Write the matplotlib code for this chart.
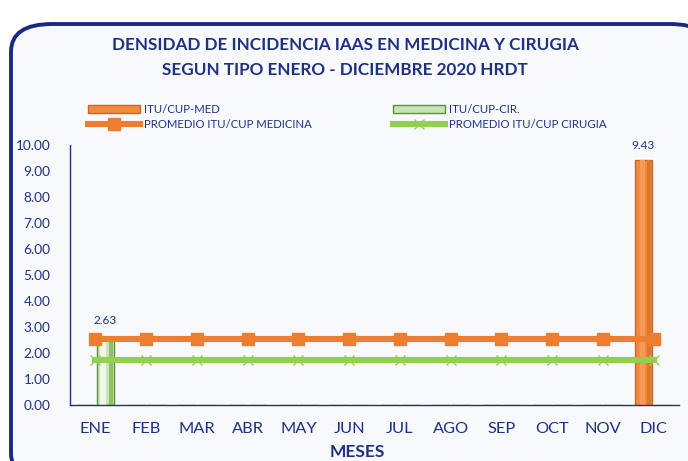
import matplotlib.pyplot as plt
from matplotlib.patches import FancyBboxPatch
import numpy as np

# datos
meses = ["ENE", "FEB", "MAR", "ABR", "MAY", "JUN", "JUL", "AGO", "SEP", "OCT", "NOV", "DIC"]
itu_med = [0, 0, 0, 0, 0, 0, 0, 0, 0, 0, 0, 9.43]
itu_cir = [2.63, 0, 0, 0, 0, 0, 0, 0, 0, 0, 0, 0]
prom_med = [2.53] * 12
prom_cir = [1.73] * 12

navy = "#1f3180"
naranja = "#ED7D31"
verde = "#92D050"

plt.rcParams['font.family'] = ['Lato', 'DejaVu Sans']

fig = plt.figure(figsize=(6.88, 4.61), dpi=100)
fig.patch.set_facecolor("white")

# marco redondeado del grafico
marco = FancyBboxPatch((11 / 688, -20 / 461), 700 / 688, 457 / 461,
                       boxstyle="round,pad=0,rounding_size=0.06",
                       transform=fig.transFigure, facecolor="#f8f9fc",
                       edgecolor="#1a2a80", linewidth=2.8, zorder=-5)
fig.patches.append(marco)

ax = fig.add_axes([70 / 688, 1 - 405 / 461, 609 / 688, 260 / 461])
ax.set_facecolor("none")
ax.set_zorder(1)

x = np.arange(len(meses))
w = 0.34

b1 = ax.bar(x - 0.2, itu_med, w, color="#f28a3e", edgecolor="#c8672a", linewidth=1,
            label="ITU/CUP-MED", zorder=2)
b2 = ax.bar(x + 0.2, itu_cir, w, color="#c9e4b6", edgecolor="#5e8f3a", linewidth=1,
            label="ITU/CUP-CIR.", zorder=2)

# brillo en las barras
for rect in b1:
    if rect.get_height() > 0:
        ax.bar(rect.get_x() + rect.get_width() * 0.3, rect.get_height(), rect.get_width() * 0.3,
               align="edge", color="#f79a55", linewidth=0, zorder=2.5)
        ax.bar(rect.get_x() + rect.get_width() * 0.72, rect.get_height(), rect.get_width() * 0.22,
               align="edge", color="#de7630", linewidth=0, zorder=2.5)
for rect in b2:
    if rect.get_height() > 0:
        ax.bar(rect.get_x() + rect.get_width() * 0.2, rect.get_height(), rect.get_width() * 0.35,
               align="edge", color="#eef7ea", linewidth=0, zorder=2.5)
        ax.bar(rect.get_x() + rect.get_width() * 0.72, rect.get_height(), rect.get_width() * 0.22,
               align="edge", color="#8fbf6a", linewidth=0, zorder=2.5)

l1, = ax.plot(x, prom_med, color=naranja, linewidth=4.4, marker="s", markersize=9,
              label="PROMEDIO ITU/CUP MEDICINA", zorder=3)
l2, = ax.plot(x, prom_cir, color=verde, linewidth=4.4, marker="x", markersize=7, markeredgewidth=1.0,
              label="PROMEDIO ITU/CUP CIRUGIA", zorder=3)

# etiquetas de valores
for i, v in enumerate(itu_med):
    if v > 0:
        ax.text(x[i] - 0.2, v + 0.35, f"{v:.2f}", ha="center", va="bottom", fontsize=8.5, color=navy)
for i, v in enumerate(itu_cir):
    if v > 0:
        ax.text(x[i] + 0.2, v + 0.4, f"{v:.2f}", ha="center", va="bottom", fontsize=8.5, color=navy)

ax.set_xlim(-0.5, 11.5)
ax.set_ylim(0, 10)
ax.set_yticks(np.arange(0, 11, 1))
ax.set_yticklabels([f"{v:.2f}" for v in np.arange(0, 11, 1)])
ax.set_xticks(x)
ax.set_xticklabels(meses)
ax.tick_params(axis="y", length=0, labelsize=9.8, labelcolor=navy, pad=14)
ax.tick_params(axis="x", length=0, labelsize=11.8, labelcolor=navy, pad=12)
for s in ["top", "right"]:
    ax.spines[s].set_visible(False)
for s in ["left", "bottom"]:
    ax.spines[s].set_color(navy)
    ax.spines[s].set_linewidth(1)

ax.set_xlabel("MESES", fontsize=12.5, fontweight="bold", color=navy)
ax.xaxis.set_label_coords((357 - 70) / 609, -(452 - 405) / 260)
ax.xaxis.label.set_va("center")

fig.text(345 / 688, 1 - 45 / 461, "DENSIDAD DE INCIDENCIA IAAS EN MEDICINA Y CIRUGIA",
         ha="center", va="center", fontsize=12.3, fontweight="bold", color=navy)
fig.text(345 / 688, 1 - 70 / 461, "SEGUN TIPO ENERO - DICIEMBRE 2020 HRDT",
         ha="center", va="center", fontsize=12.3, fontweight="bold", color=navy)

# leyenda en dos columnas separadas
ley_izq = fig.legend([b1, l1], ["ITU/CUP-MED", "PROMEDIO ITU/CUP MEDICINA"],
                     loc="center left", bbox_to_anchor=(78 / 688, 1 - 117 / 461),
                     frameon=False, fontsize=8.2, labelcolor=navy, handlelength=4.5,
                     handleheight=0.6, labelspacing=0.35, handletextpad=0.4)
ley_der = fig.legend([b2, l2], ["ITU/CUP-CIR.", "PROMEDIO ITU/CUP CIRUGIA"],
                     loc="center left", bbox_to_anchor=(383 / 688, 1 - 117 / 461),
                     frameon=False, fontsize=8.2, labelcolor=navy, handlelength=4.5,
                     handleheight=0.6, labelspacing=0.35, handletextpad=0.4)

fig.savefig("out.png", dpi=100, facecolor=fig.get_facecolor())
